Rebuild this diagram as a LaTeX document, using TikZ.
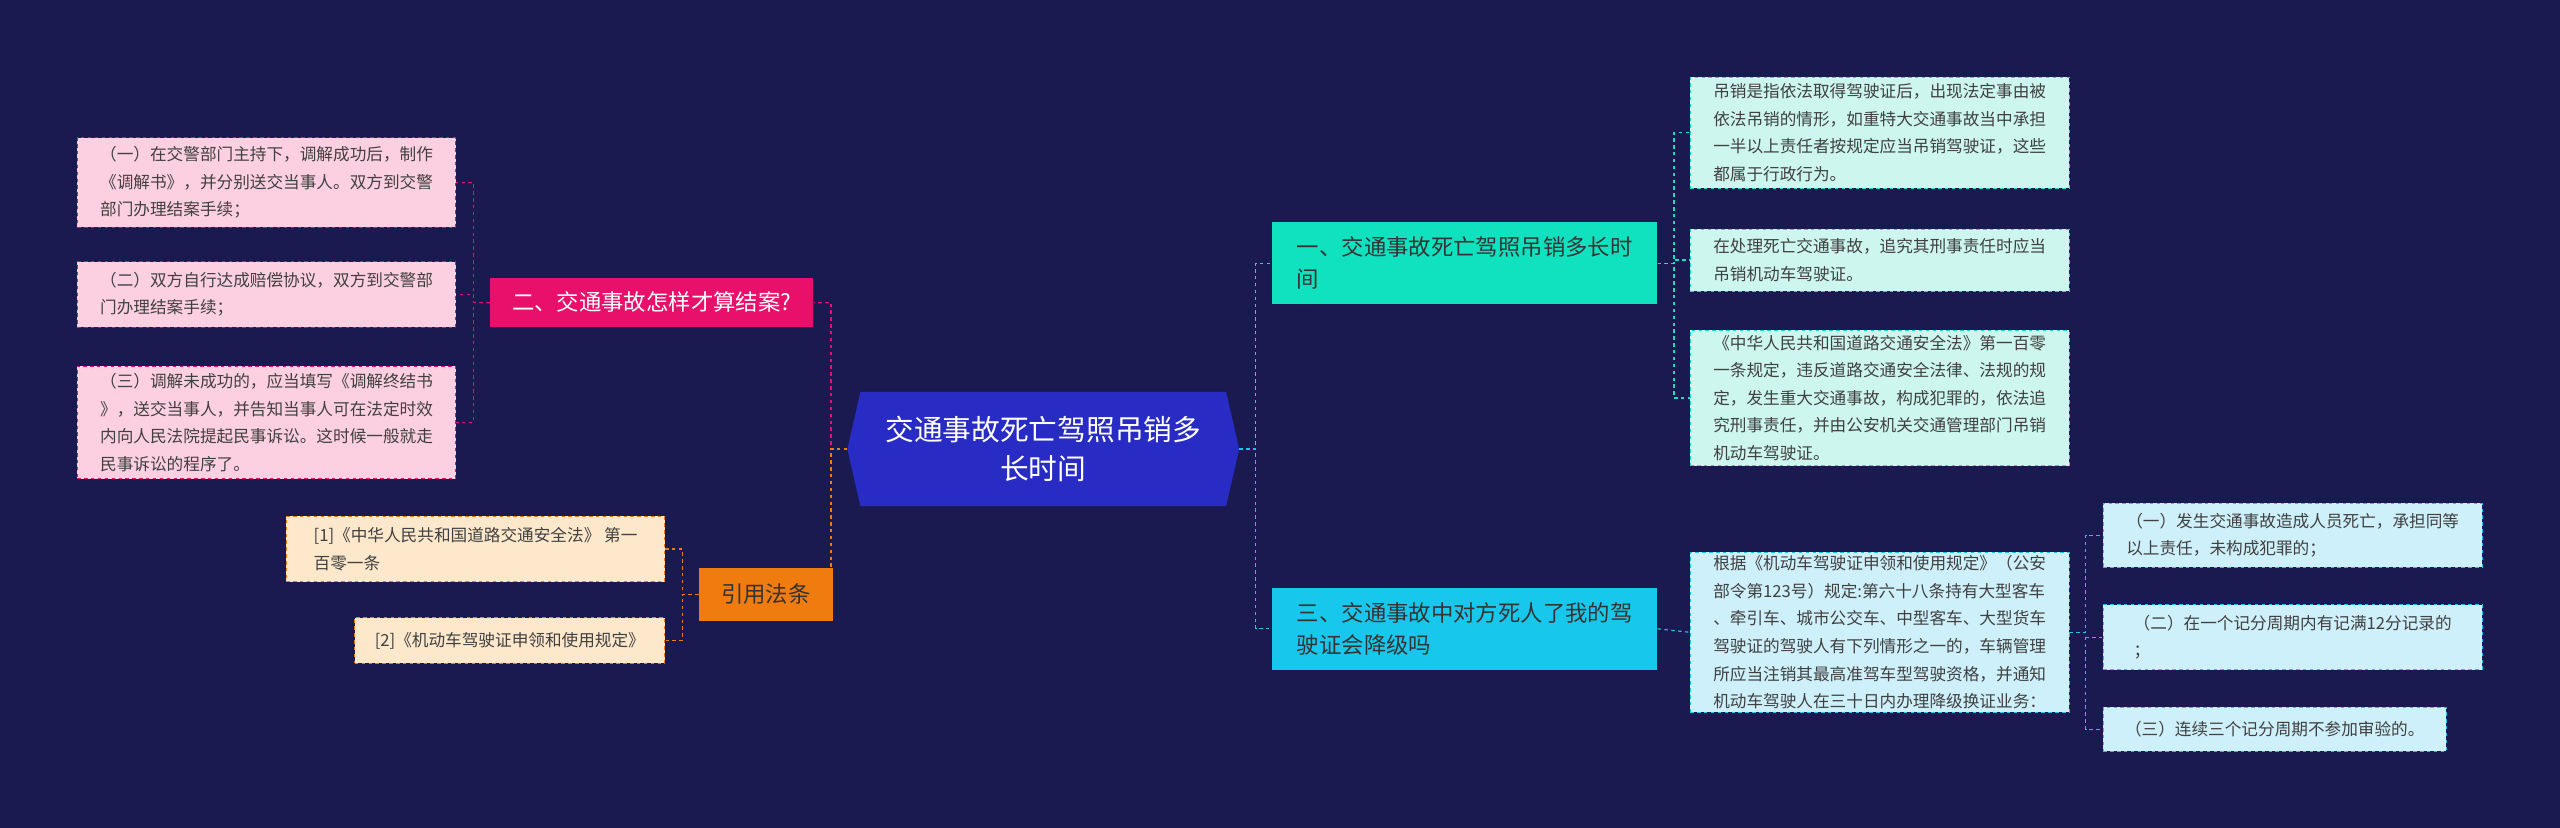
\documentclass[tikz,border=0pt]{standalone}
\usepackage{fontspec}
\setmainfont{Noto Sans CJK SC}
\begin{document}
\begin{tikzpicture}[x=0.05cm,y=-0.05cm,
  leaf/.style={draw, dashed, line width=0.8pt, anchor=north west, align=left, inner xsep=0.25cm, inner ysep=0.1cm, font=\fontsize{14.5}{24}\selectfont, text=black!75},
  branch/.style={anchor=north west, align=left, inner xsep=0.3cm, font=\fontsize{19.5}{28}\selectfont},
  conn/.style={dashed, line width=1pt}]
\fill[fill={rgb,255:red,27;green,26;blue,80}] (0,0) rectangle (1568,507);
\useasboundingbox (0,0) rectangle (1568,507);
% center
\fill[fill={rgb,255:red,40;green,44;blue,196}] (519,275) -- (527,240) -- (751,240) -- (759,275) -- (751,310) -- (527,310) -- cycle;
\node[minimum width=12cm, minimum height=3.5cm, align=center, text=white, font=\fontsize{25}{34}\selectfont] (c) at (639,275) {交通事故死亡驾照吊销多\\长时间};
% right branches
\node[branch, fill={rgb,255:red,16;green,226;blue,192}, minimum width=11.8cm, minimum height=2.5cm, text=black!80] (b1) at (779,136) {一、交通事故死亡驾照吊销多长时\\间};
\node[branch, fill={rgb,255:red,24;green,200;blue,236}, minimum width=11.8cm, minimum height=2.5cm, text=black!80] (b3) at (779,360) {三、交通事故中对方死人了我的驾\\驶证会降级吗};
% left branches
\node[branch, fill={rgb,255:red,232;green,16;blue,106}, minimum width=9.9cm, minimum height=1.5cm, text=white] (b2) at (300,170) {二、交通事故怎样才算结案?};
\node[branch, fill={rgb,255:red,240;green,124;blue,16}, minimum width=4.1cm, minimum height=1.6cm, text=black!80, inner xsep=0.15cm] (b4) at (428,348) {引用法条};
% right leaves
\tikzset{tl/.style={leaf, fill={rgb,255:red,204;green,246;blue,238}, draw={rgb,255:red,16;green,226;blue,192}, minimum width=11.6cm},
 bl/.style={leaf, fill={rgb,255:red,206;green,240;blue,250}, draw={rgb,255:red,24;green,200;blue,236}, minimum width=11.6cm},
 pl/.style={leaf, fill={rgb,255:red,252;green,208;blue,224}, draw={rgb,255:red,232;green,16;blue,106}, minimum width=11.6cm},
 ol/.style={leaf, fill={rgb,255:red,253;green,232;blue,204}, draw={rgb,255:red,240;green,124;blue,16}}}
\node[tl, minimum height=3.4cm] (r1) at (1035,47) {吊销是指依法取得驾驶证后，出现法定事由被\\依法吊销的情形，如重特大交通事故当中承担\\一半以上责任者按规定应当吊销驾驶证，这些\\都属于行政行为。};
\node[tl, minimum height=1.9cm] (r2) at (1035,140) {在处理死亡交通事故，追究其刑事责任时应当\\吊销机动车驾驶证。};
\node[tl, minimum height=4.15cm] (r3) at (1035,202) {《中华人民共和国道路交通安全法》第一百零\\一条规定，违反道路交通安全法律、法规的规\\定，发生重大交通事故，构成犯罪的，依法追\\究刑事责任，并由公安机关交通管理部门吊销\\机动车驾驶证。};
\node[bl, minimum height=4.9cm] (r4) at (1035,338) {根据《机动车驾驶证申领和使用规定》（公安\\部令第123号）规定:第六十八条持有大型客车\\、牵引车、城市公交车、中型客车、大型货车\\驾驶证的驾驶人有下列情形之一的，车辆管理\\所应当注销其最高准驾车型驾驶资格，并通知\\机动车驾驶人在三十日内办理降级换证业务：};
\node[bl, minimum height=1.95cm] (s1) at (1288,308) {（一）发生交通事故造成人员死亡，承担同等\\以上责任，未构成犯罪的；};
\node[bl, minimum height=2cm] (s2) at (1288,370) {（二）在一个记分周期内有记满12分记录的\\；};
\node[bl, minimum width=10.5cm, minimum height=1.35cm] (s3) at (1288,433) {（三）连续三个记分周期不参加审验的。};
% left leaves
\node[pl, minimum height=2.75cm] (l1) at (47,84) {（一）在交警部门主持下，调解成功后，制作\\《调解书》，并分别送交当事人。双方到交警\\部门办理结案手续；};
\node[pl, minimum height=2cm] (l2) at (47,160) {（二）双方自行达成赔偿协议，双方到交警部\\门办理结案手续；};
\node[pl, minimum height=3.45cm] (l3) at (47,224) {（三）调解未成功的，应当填写《调解终结书\\》，送交当事人，并告知当事人可在法定时效\\内向人民法院提起民事诉讼。这时候一般就走\\民事诉讼的程序了。};
\node[ol, minimum width=11.6cm, minimum height=2cm] (f1) at (175,316) {[1]《中华人民共和国道路交通安全法》 第一\\百零一条};
\node[ol, minimum width=9.5cm, minimum height=1.4cm] (f2) at (217,378) {[2]《机动车驾驶证申领和使用规定》};
% connectors
\tikzset{cT/.style={conn, draw={rgb,255:red,16;green,226;blue,192}}, cB/.style={conn, draw={rgb,255:red,24;green,200;blue,236}},
 cP/.style={conn, draw={rgb,255:red,232;green,16;blue,106}}, cO/.style={conn, draw={rgb,255:red,240;green,124;blue,16}}}
\draw[cT] (759,275) -- (769,275) |- (b1.west);
\draw[cB] (759,275) -- (769,275) |- (b3.west);
\draw[cT] (b1.east) -- ++(10,0) |- (r1.west);
\draw[cT] (b1.east) -- ++(10,0) |- (r2.west);
\draw[cT] (b1.east) -- ++(10,0) |- (r3.west);
\draw[cB] (b3.east) -- (r4.west);
\draw[cB] (r4.east) -- ++(10,0) |- (s1.west);
\draw[cB] (r4.east) -- ++(10,0) |- (s2.west);
\draw[cB] (r4.east) -- ++(10,0) |- (s3.west);
\draw[cP] (519,275) -- (509,275) |- (b2.east);
\draw[cO] (519,275) -- (509,275) |- (b4.east);
\draw[cP] (b2.west) -- ++(-10,0) |- (l1.east);
\draw[cP] (b2.west) -- ++(-10,0) |- (l2.east);
\draw[cP] (b2.west) -- ++(-10,0) |- (l3.east);
\draw[cO] (b4.west) -- ++(-10,0) |- (f1.east);
\draw[cO] (b4.west) -- ++(-10,0) |- (f2.east);
\end{tikzpicture}
\end{document}
